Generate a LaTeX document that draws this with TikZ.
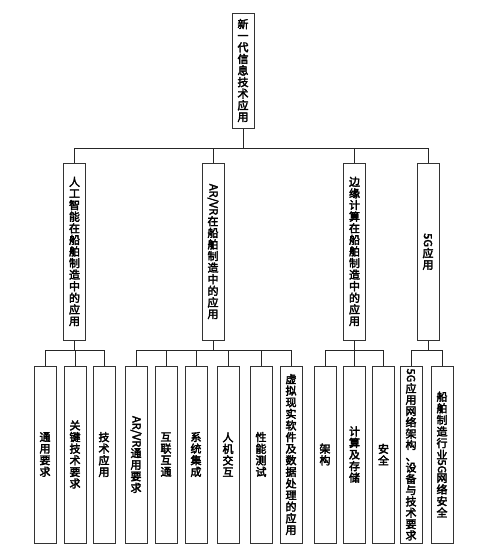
\documentclass[tikz,border=0pt]{standalone}
\usepackage{fontspec}
\usepackage{graphicx}
\newfontfamily\cjk{Noto Sans CJK SC}[RawFeature={embolden=3}]
\newcommand\lat[1]{\rotatebox[origin=c]{-90}{#1}}
\begin{document}
\begin{tikzpicture}[x=1pt,y=-1pt,
  box/.style={draw=black!80, line width=1pt, fill=white, minimum width=22pt, inner xsep=0pt, inner ysep=1pt, align=center,
    font=\cjk\fontsize{11}{11.6}\selectfont},
  lvltwo/.style={box, minimum height=177pt},
  leaf/.style={box, minimum height=177pt},
  conn/.style={draw=black!85, line width=0.8pt}]
\useasboundingbox (0,0) rectangle (488,555);
% root
\node[box, minimum height=115pt] (root) at (243,70.5) {新\\一\\代\\信\\息\\技\\术\\应\\用};
% level two
\node[lvltwo] (a) at (74.5,251.5) {人\\工\\智\\能\\在\\船\\舶\\制\\造\\中\\的\\应\\用};
\node[lvltwo] (b) at (213,251.5) {\lat{AR/VR}\\在\\船\\舶\\制\\造\\中\\的\\应\\用};
\node[lvltwo] (c) at (354.5,251.5) {边\\缘\\计\\算\\在\\船\\舶\\制\\造\\中\\的\\应\\用};
\node[lvltwo] (d) at (428,251.5) {\lat{5G}\\应\\用};
% leaves
\node[leaf] (a1) at (45,454.5) {通\\用\\要\\求};
\node[leaf] (a2) at (75,454.5) {关\\键\\技\\术\\要\\求};
\node[leaf] (a3) at (104,454.5) {技\\术\\应\\用};
\node[leaf] (b1) at (136,454.5) {\lat{AR/VR}\\通\\用\\要\\求};
\node[leaf] (b2) at (166,454.5) {互\\联\\互\\通};
\node[leaf] (b3) at (196,454.5) {系\\统\\集\\成};
\node[leaf] (b4) at (228,454.5) {人\\机\\交\\互};
\node[leaf] (b5) at (261,454.5) {性\\能\\测\\试};
\node[leaf] (b6) at (291,454.5) {虚\\拟\\现\\实\\软\\件\\及\\数\\据\\处\\理\\的\\应\\用};
\node[leaf] (c1) at (325,454.5) {架\\构};
\node[leaf] (c2) at (354.5,454.5) {计\\算\\及\\存\\储};
\node[leaf] (c3) at (383.5,454.5) {安\\全};
\node[leaf, font=\cjk\fontsize{11}{11.3}\selectfont] (d1) at (411,454.5) {\lat{5G}\\应\\用\\网\\络\\架\\构\\、\\设\\备\\与\\技\\术\\要\\求};
\node[leaf] (d2) at (442,454.5) {船\\舶\\制\\造\\行\\业\\\lat{5G}\\网\\络\\安\\全};
% bus coordinates
\coordinate (bus0) at (0,148);
\coordinate (bus1) at (0,350);
% connectors
\foreach \ch in {a,b,c,d}
  \draw[conn] (root.south) -- (root.south |- bus0) -| (\ch.north);
\foreach \ch in {a1,a2,a3}
  \draw[conn] (a.south) -- (a.south |- bus1) -| (\ch.north);
\foreach \ch in {b1,b2,b3,b4,b5,b6}
  \draw[conn] (b.south) -- (b.south |- bus1) -| (\ch.north);
\foreach \ch in {c1,c2,c3}
  \draw[conn] (c.south) -- (c.south |- bus1) -| (\ch.north);
\foreach \ch in {d1,d2}
  \draw[conn] (d.south) -- (d.south |- bus1) -| (\ch.north);
\end{tikzpicture}
\end{document}
